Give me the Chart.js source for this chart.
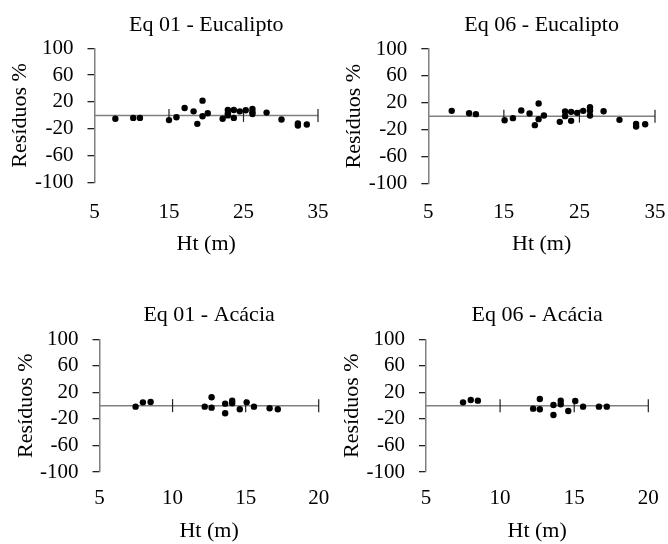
<!DOCTYPE html>
<html>
<head>
<meta charset="utf-8">
<script src="https://cdn.jsdelivr.net/npm/chart.js@4.4.1/dist/chart.umd.min.js"></script>
<style>
  html, body { margin: 0; background: #fff; overflow: hidden; }
  #wrap { position: relative; width: 668px; height: 544px; overflow: hidden; }
  canvas { position: absolute; }
</style>
</head>
<body>
<div id="wrap">
  <canvas id="c1" width="334" height="272" style="left:0;top:0"></canvas>
  <canvas id="c2" width="334" height="272" style="left:334px;top:0"></canvas>
  <canvas id="c3" width="334" height="290" style="left:0;top:272px"></canvas>
  <canvas id="c4" width="334" height="290" style="left:334px;top:272px"></canvas>
</div>
<script>
// tick labels
const yTicks = [-100, -60, -20, 20, 60, 100];
const xTicksEuc = [5, 15, 25, 35];
const xTicksAca = [5, 10, 15, 20];

// Eq 01 - Eucalipto
const eq01EucHt  = [7.8, 10.2, 11.1, 15.0, 16.0, 17.1, 18.3, 18.8, 19.5, 19.5, 20.2, 22.2, 22.9, 22.9, 22.9, 23.7, 23.7, 24.5, 25.3, 26.2, 26.2, 26.2, 28.1, 30.1, 32.3, 32.3, 33.5];
const eq01EucRes = [-5, -3.7, -3.7, -7, -2.7, 11, 6, -12.6, 22, -1.3, 3.2, -5, 8, 3, 0, 8, -3.7, 6, 7.7, 9.7, 5, 2, 4.2, -6.2, -12, -15, -13.6];

// Eq 06 - Eucalipto
const eq06EucHt  = [8.1, 10.4, 11.3, 15.1, 16.2, 17.3, 18.4, 19.1, 19.6, 19.6, 20.3, 22.4, 23.1, 23.1, 23.9, 23.9, 24.7, 25.5, 26.4, 26.4, 26.4, 28.2, 30.3, 32.5, 32.5, 33.7];
const eq06EucRes = [7.9, 4.4, 3, -6, -3, 8.4, 4, -13.4, 18.8, -4.5, 1, -8.5, 7, 0, 6.4, -7, 4.9, 7.9, 13.4, 8, 1, 7.4, -5.5, -11.5, -15.4, -12];

// Eq 01 - Acácia
const eq01AcaHt  = [7.47, 7.97, 8.5, 12.2, 12.67, 12.67, 13.6, 13.6, 14.08, 14.08, 14.6, 15.07, 15.57, 16.64, 17.2];
const eq01AcaRes = [-1.5, 5, 5.6, -1.5, 12.6, -3, 3, -11.5, 7.5, 3.6, -5.4, 5, -1.5, -4, -5.4];

// Eq 06 - Acácia
const eq06AcaHt  = [7.5, 8.02, 8.5, 12.23, 12.68, 12.68, 13.6, 13.6, 14.09, 14.09, 14.6, 15.07, 15.6, 16.67, 17.2];
const eq06AcaRes = [5, 8.6, 7.5, -4.5, 10, -5.4, 1, -14, 7.5, 2, -8, 7, -1.5, -1.5, -1.5];

Chart.defaults.color = '#000';
Chart.defaults.font.family = '"Liberation Serif", "Times New Roman", serif';

// horizontal line at zero with crossing tick marks, like the Excel x axis
const zeroAxis = {
    id: 'zeroAxis',
    beforeDatasetsDraw(chart) {
        const {ctx, chartArea, scales: {x, y}} = chart;
        const y0 = y.getPixelForValue(0);
        ctx.save();
        ctx.strokeStyle = '#808080';
        ctx.lineWidth = 1.5;
        ctx.beginPath();
        ctx.moveTo(chartArea.left, y0);
        ctx.lineTo(chartArea.right, y0);
        ctx.stroke();
        ctx.strokeStyle = '#222';
        ctx.lineWidth = 1.2;
        for (const t of x.ticks) {
            if (t.value === x.min) continue;
            const px = x.getPixelForValue(t.value);
            ctx.beginPath();
            ctx.moveTo(px, y0 - 6.5);
            ctx.lineTo(px, y0 + 6.5);
            ctx.stroke();
        }
        ctx.restore();
    }
};

// xGap: hidden tick length that pushes the x labels down
const panels = [
    {id: 'c1', title: 'Eq 01 - Eucalipto', ht: eq01EucHt, res: eq01EucRes, xTicks: xTicksEuc,
        titlePad: {top: 11.8, bottom: 10.1}, xGap: 15.4, xTitlePad: {top: 4.2, bottom: 4},
        yTitlePad: {top: 4, bottom: -12.2}, layout: {left: 2.8, right: 16, top: 0, bottom: 10.3}},
    {id: 'c2', title: 'Eq 06 - Eucalipto', ht: eq06EucHt, res: eq06EucRes, xTicks: xTicksEuc,
        titlePad: {top: 11.8, bottom: 10.8}, xGap: 14.6, xTitlePad: {top: 4.2, bottom: 4},
        yTitlePad: {top: 4, bottom: -12.4}, layout: {left: 2.8, right: 13, top: 0, bottom: 10.3}},
    {id: 'c3', title: 'Eq 01 - Acácia', ht: eq01AcaHt, res: eq01AcaRes, xTicks: xTicksAca,
        titlePad: {top: 29.8, bottom: 11.1}, xGap: 12.1, xTitlePad: {top: 4.5, bottom: 4},
        yTitlePad: {top: 4, bottom: -13.2}, layout: {left: 8.8, right: 15.3, top: 0, bottom: 13.8}},
    {id: 'c4', title: 'Eq 06 - Acácia', ht: eq06AcaHt, res: eq06AcaRes, xTicks: xTicksAca,
        titlePad: {top: 29.8, bottom: 11.1}, xGap: 12.1, xTitlePad: {top: 4.5, bottom: 4},
        yTitlePad: {top: 4, bottom: -12.7}, layout: {left: 0.8, right: 19.7, top: 0, bottom: 13.8}}
];

for (const p of panels) {
    const points = p.ht.map((h, i) => ({x: h, y: p.res[i]}));
    new Chart(document.getElementById(p.id), {
        type: 'scatter',
        data: {
            datasets: [{
                data: points,
                backgroundColor: '#000',
                borderWidth: 0,
                pointRadius: 3.2
            }]
        },
        options: {
            responsive: false,
            animation: false,
            events: [],
            layout: {padding: p.layout},
            plugins: {
                legend: {display: false},
                tooltip: {enabled: false},
                title: {
                    display: true,
                    text: p.title,
                    fullSize: false,
                    font: {size: 22, weight: 'normal'},
                    padding: p.titlePad
                }
            },
            scales: {
                x: {
                    type: 'linear',
                    min: p.xTicks[0],
                    max: p.xTicks[p.xTicks.length - 1],
                    afterBuildTicks: s => { s.ticks = p.xTicks.map(v => ({value: v})); },
                    grid: {display: false, drawTicks: true, tickLength: p.xGap},
                    border: {display: false},
                    ticks: {font: {size: 21}, padding: 2, maxRotation: 0, autoSkip: false},
                    title: {display: true, text: 'Ht (m)', font: {size: 22}, padding: p.xTitlePad}
                },
                y: {
                    min: yTicks[0],
                    max: yTicks[yTicks.length - 1],
                    afterBuildTicks: s => { s.ticks = yTicks.map(v => ({value: v})); },
                    grid: {drawOnChartArea: false, drawTicks: true, tickLength: 7, color: '#222', lineWidth: 1.3},
                    border: {display: true, color: '#808080', width: 1.5},
                    ticks: {font: {size: 21}, padding: 14, autoSkip: false},
                    title: {display: true, text: 'Resíduos %', font: {size: 22}, padding: p.yTitlePad}
                }
            }
        },
        plugins: [zeroAxis]
    });
}
</script>
</body>
</html>
